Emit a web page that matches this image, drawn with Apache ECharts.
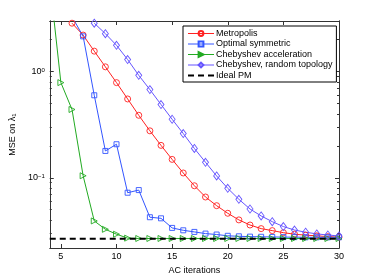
<!DOCTYPE html>
<html>
<head>
<meta charset="utf-8">
<script src="https://cdn.jsdelivr.net/npm/echarts@6/dist/echarts.min.js"></script>
<style>html,body{margin:0;padding:0;background:#fff}#c{width:374px;height:280px}</style>
</head>
<body>
<div id="c"></div>
<script>
// ---- data ----
const xTicks = [5, 10, 15, 20, 25, 30];
const yMajorTicks = [0.1, 1];
const yMinorTicks = [0.03,0.04,0.05,0.06,0.07,0.08,0.09,0.2,0.3,0.4,0.5,0.6,0.7,0.8,0.9,2,3];

const metroX = [6,7,8,9,10,11,12,13,14,15,16,17,18,19,20,21,22,23,24,25,26,27,28,29,30];
const metroY = [2.86,2.21,1.56,1.11,0.788,0.553,0.388,0.277,0.202,0.149,0.111,0.0841,0.0659,0.0546,0.0463,0.0401,0.0359,0.0332,0.0318,0.0304,0.0294,0.0288,0.0284,0.0279,0.0276];

const optX = [6,7,8,9,10,11,12,13,14,15,16,17,18,19,20,21,22,23,24,25,26,27,28,29,30];
const optY = [3.3,2.15,0.599,0.179,0.207,0.0723,0.0766,0.0425,0.0415,0.0337,0.032,0.0309,0.0298,0.0292,0.0284,0.0281,0.0279,0.0278,0.0277,0.0276,0.0276,0.0275,0.0275,0.0275,0.0275];

const chebX = [4,5,6,7,8,9,10,11,12,13,14,15,16,17,18,19,20,21,22,23,24,25,26,27,28,29,30];
const chebY = [7.2,0.788,0.44,0.1045,0.0392,0.0327,0.0294,0.027,0.0268,0.0268,0.0268,0.0268,0.0268,0.0268,0.0268,0.0268,0.0268,0.0268,0.0268,0.0268,0.0268,0.0268,0.0268,0.0268,0.0268,0.0268,0.0268];

const randX = [8,9,10,11,12,13,14,15,16,17,18,19,20,21,22,23,24,25,26,27,28,29,30];
const randY = [2.86,2.28,1.77,1.30,0.923,0.677,0.49,0.356,0.261,0.189,0.140,0.104,0.0795,0.0627,0.0508,0.0437,0.0386,0.0347,0.0322,0.0307,0.0296,0.0289,0.0283];

const idealX = [4, 30];
const idealY = [0.0267, 0.0267];

const names = ['Metropolis','Optimal symmetric','Chebyshev acceleration','Chebyshev, random topology','Ideal PM'];

function zip(xs, ys){ return xs.map((x,i)=>[x, ys[i]]); }

const FONT = '"Liberation Sans", Arial, Helvetica, sans-serif';
const axisCol = '#333';
const YMIN = 0.0218, YMAX = 3;

function yAx(pos, ticks, len, labels){
  return {
    type:'log', min:YMIN, max:YMAX, position:pos,
    axisLine:{show:true, lineStyle:{color:axisCol, width:1}},
    axisTick:{show:true, inside:true, length:len, customValues:ticks, lineStyle:{color:axisCol}},
    axisLabel: labels ? {
      show:true, customValues:yMajorTicks, margin:5, fontFamily:FONT,
      formatter: v => v >= 0.99 ? '{b|10}{s|0}' : '{b|10}{s|−1}',
      rich:{ b:{fontSize:9, color:'#000', fontFamily:FONT}, s:{fontSize:6, color:'#000', verticalAlign:'top', fontFamily:FONT} }
    } : {show:false},
    splitLine:{show:false}, minorTick:{show:false}, minorSplitLine:{show:false}
  };
}
function xAx(pos, labels){
  return {
    type:'value', min:4, max:30, position:pos,
    axisLine:{show:true, onZero:false, lineStyle:{color:axisCol, width:1}},
    axisTick:{show:true, inside:true, length:4, customValues:xTicks, lineStyle:{color:axisCol}},
    axisLabel: labels ? {show:true, customValues:xTicks, fontSize:9, color:'#000', fontFamily:FONT, margin:4} : {show:false},
    splitLine:{show:false}
  };
}

const xa0 = xAx('bottom', true);
xa0.name = 'AC iterations'; xa0.nameLocation='middle'; xa0.nameGap = 14;
xa0.nameTextStyle = {fontSize:9, color:'#000', fontFamily:FONT};
const ya0 = yAx('left', yMajorTicks, 4, true);
ya0.name = 'MSE on λ{sub|1}'; ya0.nameLocation='middle'; ya0.nameGap = 25; ya0.nameRotate = 90;
ya0.nameTextStyle = {fontSize:9, color:'#000', fontFamily:FONT,
  rich:{sub:{fontSize:6, color:'#000', verticalAlign:'bottom', fontFamily:FONT}}};

function lineSeries(name, data, color, symbol, size, rot){
  return {
    name, type:'line', data, xAxisIndex:0, yAxisIndex:0,
    symbol, symbolSize:size, symbolRotate:rot||0, showAllSymbol:true,
    lineStyle:{color, width:1},
    itemStyle:{color:'rgba(255,255,255,0)', borderColor:color, borderWidth:0.9},
    clip:true, animation:false, z:3
  };
}

const option = {
  animation:false,
  backgroundColor:'#fff',
  grid:{left:49, right:35, top:21, bottom:32, containLabel:false},
  xAxis:[xa0, xAx('top', false)],
  yAxis:[ya0, yAx('left', yMinorTicks, 2, false), yAx('right', yMajorTicks, 4, false), yAx('right', yMinorTicks, 2, false)],
  legend:{
    data:names.map(n => n === 'Ideal PM'
      ? {name:n, itemStyle:{color:'rgba(0,0,0,0)', borderColor:'rgba(0,0,0,0)', borderWidth:0}}
      : {name:n, lineStyle:{width:1}}),
    orient:'vertical', left:183, top:26,
    itemWidth:26, itemHeight:6, itemGap:1.5,
    padding:[3,4,2,4], borderColor:'#000', borderWidth:1, backgroundColor:'#fff',
    textStyle:{fontSize:9, color:'#000', fontFamily:FONT, padding:[0,0,0,-3]},
    z:10
  },
  series:[
    lineSeries('Metropolis', zip(metroX, metroY), '#ff2222', 'circle', 6),
    lineSeries('Optimal symmetric', zip(optX, optY), '#3355ff', 'rect', 5),
    lineSeries('Chebyshev acceleration', zip(chebX, chebY), '#22aa22', 'triangle', 6, -90),
    lineSeries('Chebyshev, random topology', zip(randX, randY), '#6655ff', 'diamond', [6,8]),
    {name:'Ideal PM', type:'line', data:zip(idealX, idealY), symbol:'none',
     lineStyle:{color:'#000', width:2, type:[6,4]}, itemStyle:{color:'#000'}, z:5, animation:false}
  ]
};

const chart = echarts.init(document.getElementById('c'), null, {renderer:'canvas'});
chart.setOption(option);
</script>
</body>
</html>
